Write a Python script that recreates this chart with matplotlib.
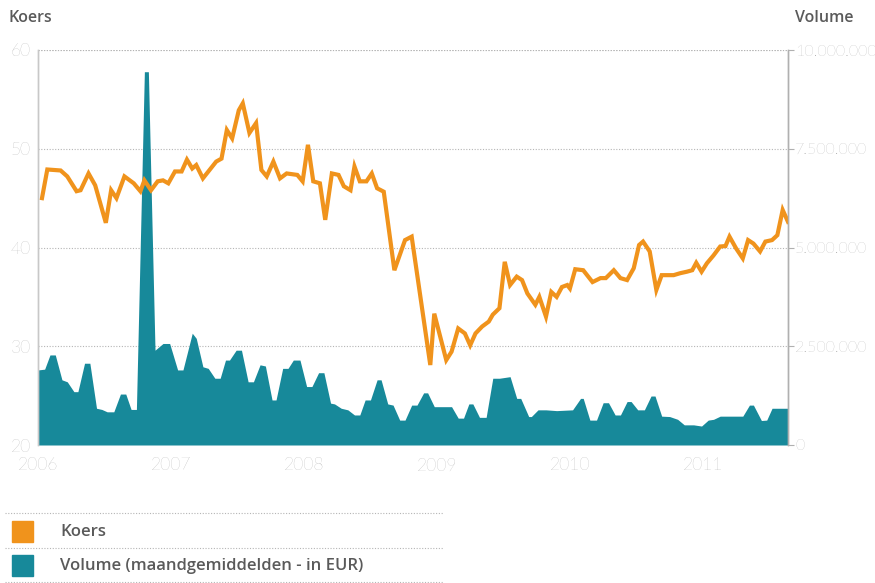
import matplotlib.pyplot as plt
from matplotlib.lines import Line2D
from matplotlib.ticker import FuncFormatter

# koers (share price), time in decimal years
koers_t = [2006.03, 2006.07, 2006.17, 2006.22, 2006.29, 2006.32, 2006.38, 2006.43,
           2006.51, 2006.55, 2006.59, 2006.65, 2006.72, 2006.77, 2006.80, 2006.85,
           2006.90, 2006.94, 2006.98, 2007.03, 2007.08, 2007.12, 2007.16, 2007.19,
           2007.24, 2007.29, 2007.34, 2007.38, 2007.42, 2007.46, 2007.51, 2007.54,
           2007.59, 2007.64, 2007.68, 2007.72, 2007.77, 2007.82, 2007.87, 2007.95,
           2007.99, 2008.03, 2008.07, 2008.12, 2008.16, 2008.21, 2008.26, 2008.30,
           2008.35, 2008.38, 2008.42, 2008.47, 2008.51, 2008.55, 2008.60, 2008.68,
           2008.76, 2008.81, 2008.95, 2008.98, 2009.07, 2009.11, 2009.16, 2009.21,
           2009.25, 2009.29, 2009.34, 2009.39, 2009.42, 2009.47, 2009.51, 2009.55,
           2009.60, 2009.64, 2009.68, 2009.74, 2009.77, 2009.82, 2009.86, 2009.90,
           2009.94, 2009.98, 2010.00, 2010.04, 2010.10, 2010.17, 2010.23, 2010.27,
           2010.33, 2010.38, 2010.43, 2010.48, 2010.52, 2010.55, 2010.60, 2010.65,
           2010.69, 2010.73, 2010.78, 2010.83, 2010.88, 2010.92, 2010.95, 2010.99,
           2011.03, 2011.08, 2011.13, 2011.17, 2011.20, 2011.25, 2011.30, 2011.34,
           2011.38, 2011.43, 2011.47, 2011.52, 2011.56, 2011.60, 2011.64]
koers = [45.0, 47.9, 47.8, 47.2, 45.7, 45.8, 47.5, 46.3,
         42.5, 45.8, 45.0, 47.2, 46.5, 45.7, 46.8, 45.8,
         46.7, 46.8, 46.5, 47.7, 47.7, 48.9, 48.0, 48.35,
         47.0, 47.85, 48.7, 49.0, 51.9, 51.05, 53.9, 54.6,
         51.6, 52.6, 47.85, 47.2, 48.7, 47.0, 47.5, 47.35,
         46.7, 50.4, 46.7, 46.5, 42.8, 47.5, 47.35, 46.2,
         45.8, 48.2, 46.7, 46.7, 47.5, 46.0, 45.65, 37.7,
         40.75, 41.1, 28.1, 33.3, 28.6, 29.45, 31.8, 31.3,
         30.1, 31.3, 32.0, 32.5, 33.2, 33.85, 38.55, 36.2,
         37.05, 36.7, 35.35, 34.2, 35.0, 33.0, 35.5, 35.0,
         36.0, 36.2, 35.85, 37.8, 37.7, 36.5, 36.9, 36.9,
         37.7, 36.9, 36.7, 37.9, 40.25, 40.6, 39.6, 35.7,
         37.2, 37.2, 37.2, 37.4, 37.55, 37.7, 38.45, 37.55,
         38.4, 39.2, 40.1, 40.15, 41.1, 39.9, 38.9, 40.75,
         40.4, 39.6, 40.6, 40.75, 41.25, 43.8, 42.6]

# volume, monthly averages in EUR (millions)
volume_t = [2006.00, 2006.05, 2006.09, 2006.13, 2006.18, 2006.22, 2006.27, 2006.30,
            2006.35, 2006.39, 2006.44, 2006.48, 2006.52, 2006.57, 2006.62, 2006.66,
            2006.70, 2006.74, 2006.80, 2006.83, 2006.88, 2006.94, 2006.99, 2007.05,
            2007.09, 2007.16, 2007.19, 2007.24, 2007.28, 2007.33, 2007.37, 2007.41,
            2007.44, 2007.49, 2007.53, 2007.58, 2007.62, 2007.67, 2007.71, 2007.76,
            2007.79, 2007.84, 2007.88, 2007.92, 2007.97, 2008.02, 2008.06, 2008.11,
            2008.15, 2008.20, 2008.23, 2008.28, 2008.33, 2008.38, 2008.42, 2008.46,
            2008.50, 2008.55, 2008.58, 2008.63, 2008.67, 2008.72, 2008.76, 2008.81,
            2008.85, 2008.90, 2008.93, 2008.98, 2009.11, 2009.16, 2009.20, 2009.24,
            2009.27, 2009.32, 2009.37, 2009.42, 2009.47, 2009.55, 2009.60, 2009.63,
            2009.69, 2009.71, 2009.76, 2009.82, 2009.90, 2010.02, 2010.08, 2010.10,
            2010.15, 2010.20, 2010.25, 2010.29, 2010.34, 2010.38, 2010.43, 2010.46,
            2010.51, 2010.56, 2010.61, 2010.64, 2010.69, 2010.75, 2010.81, 2010.86,
            2010.93, 2010.99, 2011.04, 2011.08, 2011.13, 2011.30, 2011.35, 2011.38,
            2011.44, 2011.48, 2011.52, 2011.64]
volume = [1.90, 1.92, 2.28, 2.28, 1.65, 1.60, 1.35, 1.35,
          2.07, 2.07, 0.93, 0.90, 0.84, 0.84, 1.29, 1.29,
          0.90, 0.90, 9.45, 9.45, 2.40, 2.57, 2.57, 1.90,
          1.90, 2.83, 2.70, 1.98, 1.94, 1.69, 1.69, 2.15,
          2.15, 2.40, 2.40, 1.60, 1.60, 2.03, 2.00, 1.14,
          1.14, 1.94, 1.94, 2.15, 2.15, 1.48, 1.48, 1.83,
          1.83, 1.06, 1.04, 0.93, 0.89, 0.76, 0.76, 1.14,
          1.14, 1.65, 1.65, 1.04, 1.01, 0.63, 0.63, 1.01,
          1.01, 1.32, 1.32, 0.97, 0.97, 0.68, 0.68, 1.04,
          1.04, 0.70, 0.70, 1.69, 1.69, 1.73, 1.18, 1.18,
          0.72, 0.72, 0.89, 0.89, 0.87, 0.89, 1.18, 1.18,
          0.63, 0.63, 1.07, 1.07, 0.76, 0.76, 1.10, 1.10,
          0.89, 0.89, 1.24, 1.24, 0.73, 0.72, 0.65, 0.51,
          0.51, 0.48, 0.63, 0.65, 0.73, 0.73, 1.01, 1.01,
          0.62, 0.63, 0.93, 0.93]

years = [2006, 2007, 2008, 2009, 2010, 2011]
koers_ticks = [20, 30, 40, 50, 60]
volume_ticks = [0, 2.5e6, 5e6, 7.5e6, 10e6]

ORANGE = "#F0931C"
TEAL = "#17899A"
GRID = "#b5b5b5"
LABEL = "#9c9c9c"
TEXT = "#5a5a5a"

plt.rcParams["font.family"] = ["Lato", "DejaVu Sans"]
HEAD_FONT = ["Open Sans", "DejaVu Sans"]

fig = plt.figure(figsize=(8.75, 5.83), dpi=100)
ax = fig.add_axes([38 / 875, 1 - 445 / 583, 750 / 875, 395 / 583])
ax2 = ax.twinx()

# volume area sits underneath the price line
ax2.set_zorder(ax.get_zorder() - 1)
ax.patch.set_visible(False)

ax2.fill_between(volume_t, [v * 1e6 for v in volume], 0, color=TEAL, lw=0)
ax2.set_ylim(0, 10e6)
ax2.set_yticks(volume_ticks)
ax2.yaxis.set_major_formatter(
    FuncFormatter(lambda v, _: f"{int(v):,}".replace(",", ".")))
ax2.grid(True, color=GRID, ls=(0, (1, 1.5)), lw=0.8)
ax2.set_axisbelow(True)

ax.plot(koers_t, koers, color=ORANGE, lw=3.0, solid_joinstyle="miter")
ax.set_ylim(20, 60)
ax.set_xlim(2006, 2011.64)
ax.set_yticks(koers_ticks)
ax.set_xticks(years)
ax.set_xticklabels([str(y) for y in years])

for a in (ax, ax2):
    for side in ("top", "bottom"):
        a.spines[side].set_visible(False)
    a.spines["left"].set_color("#c8c8c8")
    a.spines["right"].set_color("#b0b0b0")
    a.spines["left"].set_linewidth(1.0)
    a.spines["right"].set_linewidth(1.0)

ax.tick_params(axis="y", length=0, pad=5, labelsize=12.5, labelcolor=LABEL)
ax.tick_params(axis="x", length=0, pad=9, labelsize=12.5, labelcolor=LABEL)
ax2.tick_params(axis="y", length=4, width=0.8, color="#b0b0b0", pad=1,
                labelsize=11.5, labelcolor=LABEL)
for lbl in ax.get_yticklabels() + ax.get_xticklabels() + ax2.get_yticklabels():
    lbl.set_fontweight("light")

# top line at 60 (dotted like the grid)
ax2.axhline(10e6, color=GRID, ls=(0, (1, 1.5)), lw=0.8)

fig.text(8 / 875, 1 - 18 / 583, "Koers", fontsize=11.5, fontweight="semibold",
         family=HEAD_FONT, color=TEXT, va="center", ha="left")
fig.text(795 / 875, 1 - 18 / 583, "Volume", fontsize=11.5, fontweight="semibold",
         family=HEAD_FONT, color=TEXT, va="center", ha="left")

# legend block below the chart
for y in (513, 548, 582):
    fig.add_artist(Line2D([5 / 875, 443 / 875], [1 - y / 583, 1 - y / 583],
                          color=GRID, ls=(0, (1, 1.5)), lw=0.8))
for y, color, label in ((531.5, ORANGE, "Koers"),
                        (565.5, TEAL, "Volume (maandgemiddelden - in EUR)")):
    fig.patches.append(plt.Rectangle((12 / 875, 1 - (y + 10.5) / 583),
                                     21 / 875, 21 / 583, color=color,
                                     transform=fig.transFigure, figure=fig))
    fig.text(60 / 875, 1 - y / 583, label, fontsize=12, fontweight="semibold",
             family=HEAD_FONT, color=TEXT, va="center", ha="left")

fig.savefig("out.png", dpi=100)
